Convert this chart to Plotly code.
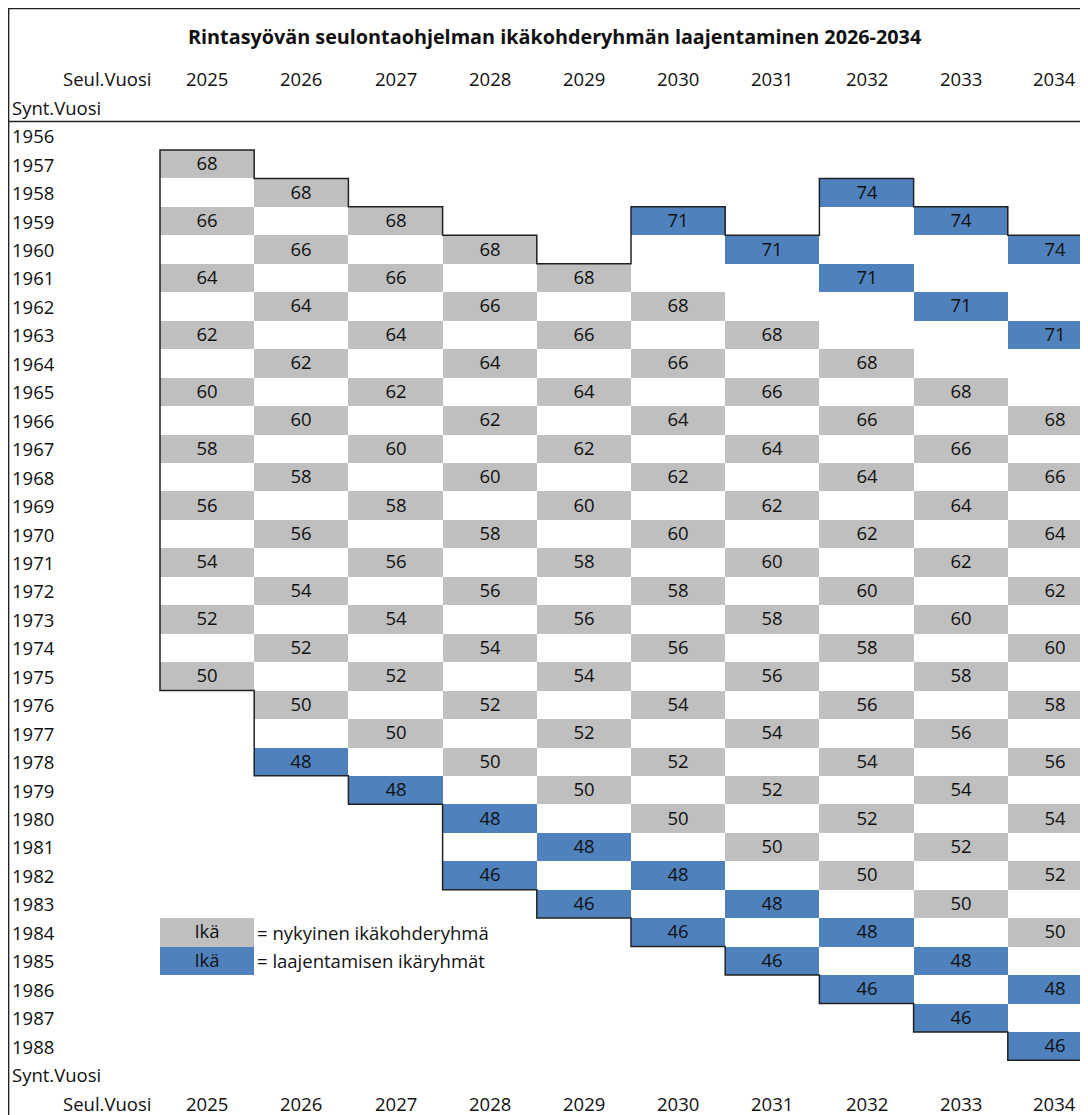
import plotly.graph_objects as go

# ---------------- data ----------------
screen_years = [2025, 2026, 2027, 2028, 2029, 2030, 2031, 2032, 2033, 2034]
birth_years = [1956, 1957, 1958, 1959, 1960, 1961, 1962, 1963, 1964, 1965, 1966,
               1967, 1968, 1969, 1970, 1971, 1972, 1973, 1974, 1975, 1976, 1977,
               1978, 1979, 1980, 1981, 1982, 1983, 1984, 1985, 1986, 1987, 1988]

# ages in the current target group (grey), per screening year
current_ages = [
    [68, 66, 64, 62, 60, 58, 56, 54, 52, 50],
    [68, 66, 64, 62, 60, 58, 56, 54, 52, 50],
    [68, 66, 64, 62, 60, 58, 56, 54, 52, 50],
    [68, 66, 64, 62, 60, 58, 56, 54, 52, 50],
    [68, 66, 64, 62, 60, 58, 56, 54, 52, 50],
    [68, 66, 64, 62, 60, 58, 56, 54, 52, 50],
    [68, 66, 64, 62, 60, 58, 56, 54, 52, 50],
    [68, 66, 64, 62, 60, 58, 56, 54, 52, 50],
    [68, 66, 64, 62, 60, 58, 56, 54, 52, 50],
    [68, 66, 64, 62, 60, 58, 56, 54, 52, 50],
]
# ages in the expansion groups (blue), per screening year
expansion_ages = [
    [],
    [48],
    [48],
    [48, 46],
    [48, 46],
    [71, 48, 46],
    [71, 48, 46],
    [74, 71, 48, 46],
    [74, 71, 48, 46],
    [74, 71, 48, 46],
]

title_text = "Rintasyövän seulontaohjelman ikäkohderyhmän laajentaminen 2026-2034"
screen_label = "Seul.Vuosi"
birth_label = "Synt.Vuosi"
legend_cell_text = "Ikä"
legend_texts = ["= nykyinen ikäkohderyhmä", "= laajentamisen ikäryhmät"]
legend_rows = [1984, 1985]

# ---------------- styling ----------------
GREY = "#BFBFBF"
BLUE = "#4F81BD"
TXT = "#111111"
LINE = "#222222"
FONT = "Open Sans"
FS = 18.5
W, H = 1080, 1107   # page adds an 8px body margin

# ---------------- build cell grid ----------------
z = [[None for _ in screen_years] for _ in birth_years]
txt = [["" for _ in screen_years] for _ in birth_years]
col_min = []
col_max = []
for ci, yr in enumerate(screen_years):
    births = []
    for code, ages in ((1, current_ages[ci]), (2, expansion_ages[ci])):
        for a in ages:
            b = yr - a
            ri = birth_years.index(b)
            z[ri][ci] = code
            txt[ri][ci] = str(a)
            births.append(b)
    col_min.append(min(births))
    col_max.append(max(births))

# legend cells
for code, row in zip((1, 2), legend_rows):
    ri = birth_years.index(row)
    z[ri][0] = code
    txt[ri][0] = legend_cell_text

fig = go.Figure()
fig.add_trace(go.Heatmap(
    x=screen_years, y=birth_years, z=z, text=txt,
    texttemplate="%{text}",
    textfont=dict(family=FONT, size=FS, color=TXT),
    colorscale=[[0, GREY], [0.5, GREY], [0.5, BLUE], [1, BLUE]],
    zmin=1, zmax=2, showscale=False, hoverinfo="skip", xgap=0, ygap=0,
))

# ---------------- axes mapping (pixel-calibrated) ----------------
col_w = 94.2
row_h = 28.45
first_col_left_px = 152
first_row_top_px = 113.5
x0 = screen_years[0] - 0.5 - first_col_left_px / col_w
x1 = x0 + W / col_w
y0 = birth_years[0] - 0.5 - first_row_top_px / row_h
y1 = y0 + H / row_h

# ---------------- staircase border ----------------
n = len(screen_years)
pts = [(screen_years[0] - 0.5, col_min[0] - 0.5)]
for i in range(n):
    pts.append((screen_years[i] + 0.5, col_min[i] - 0.5))
    if i + 1 < n:
        pts.append((screen_years[i] + 0.5, col_min[i + 1] - 0.5))
pts.append((screen_years[-1] + 0.5, col_max[-1] + 0.5))
for i in range(n - 1, -1, -1):
    pts.append((screen_years[i] - 0.5, col_max[i] + 0.5))
    if i - 1 >= 0:
        pts.append((screen_years[i] - 0.5, col_max[i - 1] + 0.5))
path = "M " + " L ".join(f"{px},{py}" for px, py in pts) + " Z"

shapes = [
    dict(type="path", path=path, xref="x", yref="y",
         line=dict(color=LINE, width=1.5), fillcolor="rgba(0,0,0,0)", layer="above"),
    # sheet top border
    dict(type="line", xref="paper", yref="paper", x0=0, x1=1,
         y0=1 - 0.6 / H, y1=1 - 0.6 / H, line=dict(color=LINE, width=1.5)),
    # sheet left border
    dict(type="line", xref="paper", yref="paper", x0=0.6 / W, x1=0.6 / W,
         y0=0, y1=1, line=dict(color=LINE, width=1.5)),
    # header separator
    dict(type="line", xref="paper", yref="y", x0=0, x1=1,
         y0=birth_years[0] - 0.5, y1=birth_years[0] - 0.5,
         line=dict(color=LINE, width=1.5)),
]

# ---------------- text ----------------
ann = []
font = dict(family=FONT, size=FS, color=TXT)
for b in birth_years:
    ann.append(dict(x=1.5 / W, xref="paper", y=b, yref="y", text=str(b),
                    xanchor="left", yanchor="middle", showarrow=False, font=font))
top_hdr = birth_years[0] - 2
top_sub = birth_years[0] - 1
bot_sub = birth_years[-1] + 1
bot_hdr = birth_years[-1] + 2
for yy in (top_sub, bot_sub):
    ann.append(dict(x=1.5 / W, xref="paper", y=yy, yref="y", text=birth_label,
                    xanchor="left", yanchor="middle", showarrow=False, font=font))
for yy in (top_hdr, bot_hdr):
    ann.append(dict(x=145 / W, xref="paper", y=yy, yref="y", text=screen_label,
                    xanchor="right", yanchor="middle", showarrow=False, font=font))
    for yr in screen_years:
        ann.append(dict(x=yr, xref="x", y=yy, yref="y", text=str(yr),
                        xanchor="center", yanchor="middle", showarrow=False, font=font))
for t, row in zip(legend_texts, legend_rows):
    ann.append(dict(x=screen_years[0] + 0.5, xref="x", y=row, yref="y", text=t,
                    xanchor="left", yanchor="middle", showarrow=False, font=font, xshift=1))
ann.append(dict(x=546 / W, xref="paper", y=1 - 29 / H, yref="paper",
                text="<b>" + title_text + "</b>", xanchor="center", yanchor="middle",
                showarrow=False, font=dict(family=FONT, size=19.8, color=TXT)))

fig.update_layout(
    width=W, height=H,
    margin=dict(l=0, r=0, t=0, b=0),
    paper_bgcolor="white", plot_bgcolor="white",
    xaxis=dict(range=[x0, x1], visible=False, fixedrange=True),
    yaxis=dict(range=[y1, y0], visible=False, fixedrange=True),
    shapes=shapes, annotations=ann, showlegend=False,
)

fig.write_html("out.html")
